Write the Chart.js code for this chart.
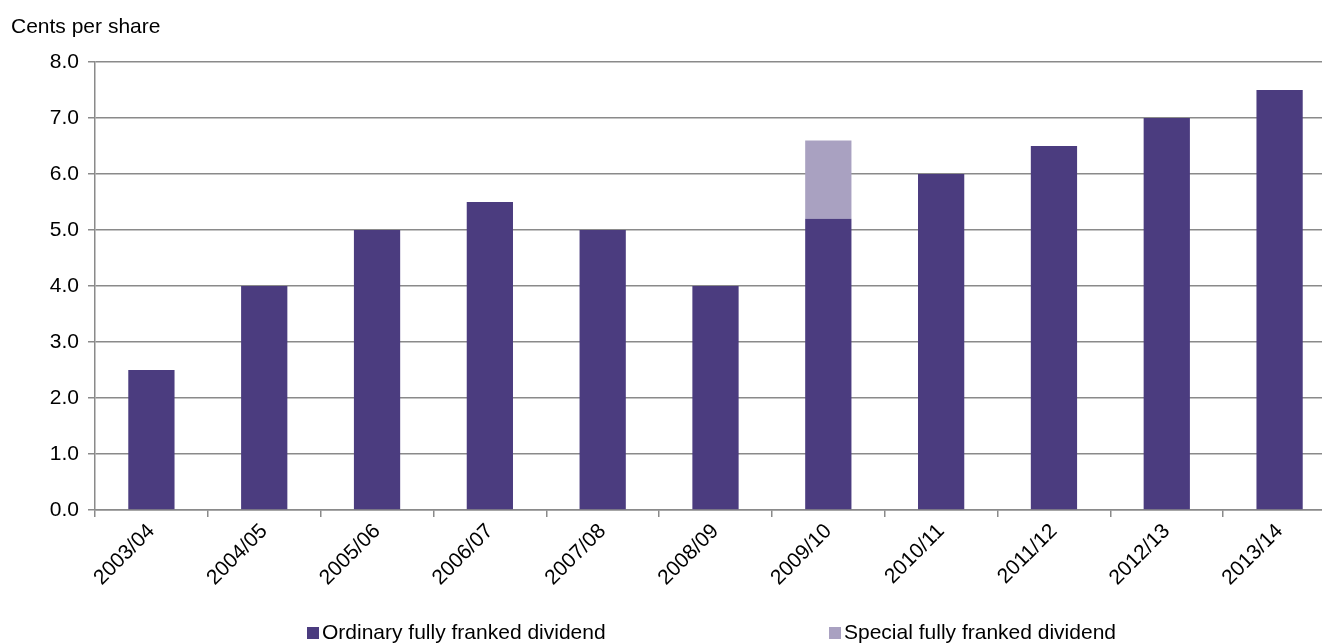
<!DOCTYPE html>
<html>
<head>
<meta charset="utf-8">
<script src="https://cdn.jsdelivr.net/npm/chart.js@4/dist/chart.umd.min.js"></script>
<style>
  html, body { margin: 0; padding: 0; background: #fff; overflow: hidden; }
  #wrap { position: relative; width: 1336px; height: 643px; }
  #legend { position: absolute; left: 0; top: 620px; width: 1322px; height: 23px;
    font-family: "Liberation Sans", Arial, sans-serif; font-size: 21px; color: #000; line-height: 23px; }
  .item { position: absolute; top: 0; white-space: nowrap; }
  .box { display: inline-block; width: 12px; height: 12px; margin-right: 3px; vertical-align: 0px; }
</style>
</head>
<body>
<div id="wrap">
  <canvas id="chart" width="1336" height="643"></canvas>
  <div id="legend"></div>
</div>
<script>
// data
const years = ['2003/04', '2004/05', '2005/06', '2006/07', '2007/08', '2008/09', '2009/10', '2010/11', '2011/12', '2012/13', '2013/14'];
const ordinary = [2.5, 4.0, 5.0, 5.5, 5.0, 4.0, 5.2, 6.0, 6.5, 7.0, 7.5];
const special = [0, 0, 0, 0, 0, 0, 1.4, 0, 0, 0, 0];
const seriesNames = ['Ordinary fully franked dividend', 'Special fully franked dividend'];
const colours = ['#4b3c7f', '#a9a1c1'];
const legendX = [307, 829];

const font = { family: '"Liberation Sans", Arial, sans-serif', size: 21 };
const gridCol = '#8a8a8a';

// y axis title drawn in top-left corner
const axisTitle = {
  id: 'axisTitle',
  afterDraw(chart) {
    const ctx = chart.ctx;
    ctx.save();
    ctx.font = '21px "Liberation Sans", Arial, sans-serif';
    ctx.fillStyle = '#000';
    ctx.textBaseline = 'alphabetic';
    ctx.fillText('Cents per share', 11, 33);
    ctx.restore();
  }
};

new Chart(document.getElementById('chart'), {
  type: 'bar',
  data: {
    labels: years,
    datasets: [
      { label: seriesNames[0], data: ordinary, backgroundColor: colours[0] },
      { label: seriesNames[1], data: special, backgroundColor: colours[1] }
    ]
  },
  options: {
    responsive: false,
    animation: false,
    layout: { padding: { top: 62, left: 0, right: 0, bottom: 0 } },
    plugins: { legend: { display: false }, tooltip: { enabled: false } },
    datasets: { bar: { categoryPercentage: 1, barPercentage: 0.41 } },
    scales: {
      x: {
        stacked: true,
        afterFit: (s) => { s.height = 133; },
        grid: { offset: true, drawOnChartArea: false, color: gridCol, lineWidth: 1.5, tickLength: 7 },
        border: { color: gridCol, width: 1.5 },
        ticks: { color: '#000', font: font, maxRotation: 45, minRotation: 45, padding: 2 }
      },
      y: {
        stacked: true,
        min: 0,
        max: 8,
        afterFit: (s) => { s.width = 95; },
        grid: { color: gridCol, lineWidth: 1.5, tickLength: 7 },
        border: { color: gridCol, width: 1.5 },
        ticks: { color: '#000', font: font, stepSize: 1, padding: 9, callback: (v) => v.toFixed(1) }
      }
    }
  },
  plugins: [axisTitle]
});

// legend spaced like the original
const leg = document.getElementById('legend');
seriesNames.forEach((name, i) => {
  const el = document.createElement('div');
  el.className = 'item';
  el.style.left = legendX[i] + 'px';
  el.innerHTML = '<span class="box" style="background:' + colours[i] + '"></span>' + name;
  leg.appendChild(el);
});
</script>
</body>
</html>
